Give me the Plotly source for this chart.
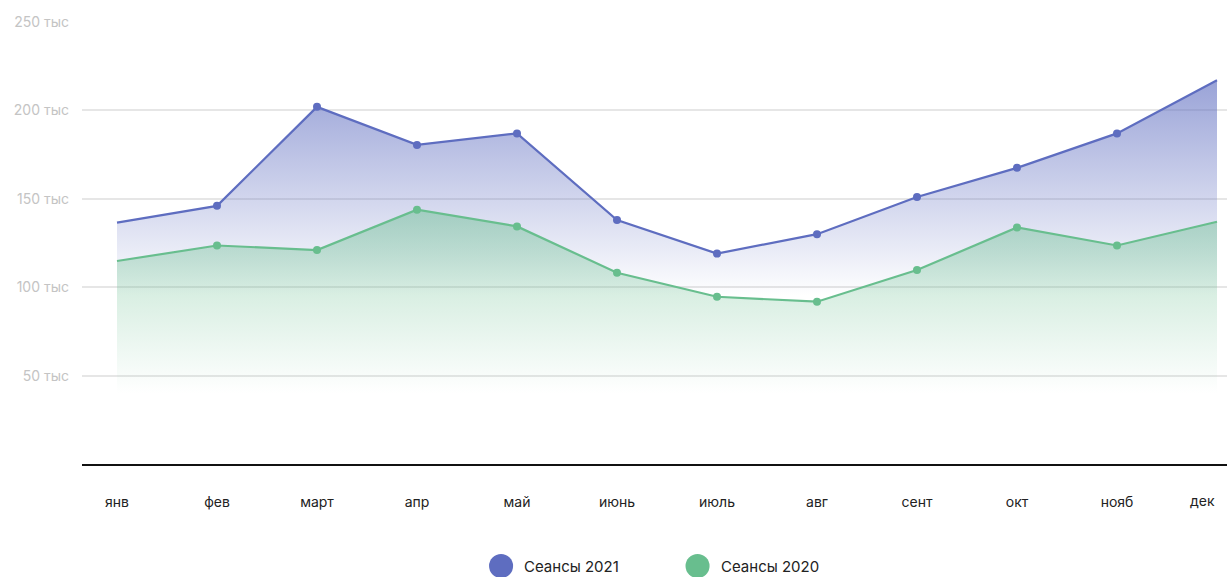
import plotly.graph_objects as go

months = ["янв", "фев", "март", "апр", "май", "июнь", "июль", "авг", "сент", "окт", "нояб", "дек"]
sessions_2021 = [136.5, 146, 202, 180.5, 187, 138, 119, 130, 151, 167.5, 187, 217]
sessions_2020 = [114.8, 123.6, 121, 143.8, 134.4, 108.2, 94.6, 91.8, 109.7, 133.8, 123.6, 137]
y_ticks = [50, 100, 150, 200, 250]
y_tick_labels = ["50 тыс", "100 тыс", "150 тыс", "200 тыс", "250 тыс"]
legend_names = ["Сеансы 2021", "Сеансы 2020"]

BLUE = "#5E6DC0"
GREEN = "#68BE8E"
FONT = "Inter"

def marker_sizes(n):
    return [0] + [8] * (n - 2) + [0]

fig = go.Figure()
fig.add_trace(go.Scatter(
    x=months, y=sessions_2021, mode="lines+markers", name=legend_names[0],
    line=dict(color=BLUE, width=2.2),
    marker=dict(color=BLUE, size=marker_sizes(len(months)), line=dict(width=0), opacity=1),
    fill="tozeroy",
    fillgradient=dict(type="vertical", start=0, stop=250,
                      colorscale=[[0, "rgba(94,109,192,0)"], [0.38, "rgba(94,109,192,0)"],
                                  [1, "rgba(94,109,192,0.8)"]]),
    showlegend=False, hoverinfo="skip",
))
fig.add_trace(go.Scatter(
    x=months, y=sessions_2020, mode="lines+markers", name=legend_names[1],
    line=dict(color=GREEN, width=2.2),
    marker=dict(color=GREEN, size=marker_sizes(len(months)), line=dict(width=0), opacity=1),
    fill="tozeroy",
    fillgradient=dict(type="vertical", start=0, stop=250,
                      colorscale=[[0, "rgba(104,190,142,0)"], [0.16, "rgba(104,190,142,0)"],
                                  [1, "rgba(104,190,142,0.95)"]]),
    showlegend=False, hoverinfo="skip",
))

# last month label sits slightly inside the right edge, as in the reference
fig.add_annotation(xref="x", yref="paper", x=months[-1], y=-0.0837, xshift=-15,
                   text=months[-1], showarrow=False, xanchor="center", yanchor="middle",
                   font=dict(family=FONT, size=14, color="#222222"))

# manual legend (circles + labels below the plot)
legend_x = [0.366, 0.5376]
legend_colors = [BLUE, GREEN]
cy, ry, rx = -0.2308, 0.0271, 0.0105
for lx, col, name in zip(legend_x, legend_colors, legend_names):
    fig.add_shape(type="circle", xref="paper", yref="paper",
                  x0=lx - rx, x1=lx + rx, y0=cy - ry, y1=cy + ry,
                  fillcolor=col, line=dict(width=0), layer="above")
    fig.add_annotation(xref="paper", yref="paper", x=lx + rx + 0.008, y=cy,
                       text=name, showarrow=False, xanchor="left", yanchor="middle",
                       font=dict(family=FONT, size=15, color="#222222"))

fig.update_layout(
    width=1227, height=577,
    margin=dict(l=82, r=0, t=22, b=113),
    paper_bgcolor="white", plot_bgcolor="white",
    font=dict(family=FONT),
    xaxis=dict(
        type="category", range=[-0.35, 11.1], automargin=False,
        tickmode="array", tickvals=months[:-1], ticktext=months[:-1],
        showgrid=False, zeroline=False,
        showline=True, linecolor="#111111", linewidth=2,
        ticks="", ticklabelstandoff=24,
        tickfont=dict(family=FONT, size=14, color="#222222"),
        fixedrange=True,
    ),
    yaxis=dict(
        range=[0, 250], tickmode="array", tickvals=y_ticks, ticktext=y_tick_labels,
        automargin=False,
        showgrid=True, gridcolor="#E6E6E6", gridwidth=1.5,
        zeroline=False, showline=False, ticks="",
        ticklabelstandoff=12,
        tickfont=dict(family=FONT, size=14, color="#C4C4C4"),
        fixedrange=True,
    ),
)

fig.write_html("out.html")
